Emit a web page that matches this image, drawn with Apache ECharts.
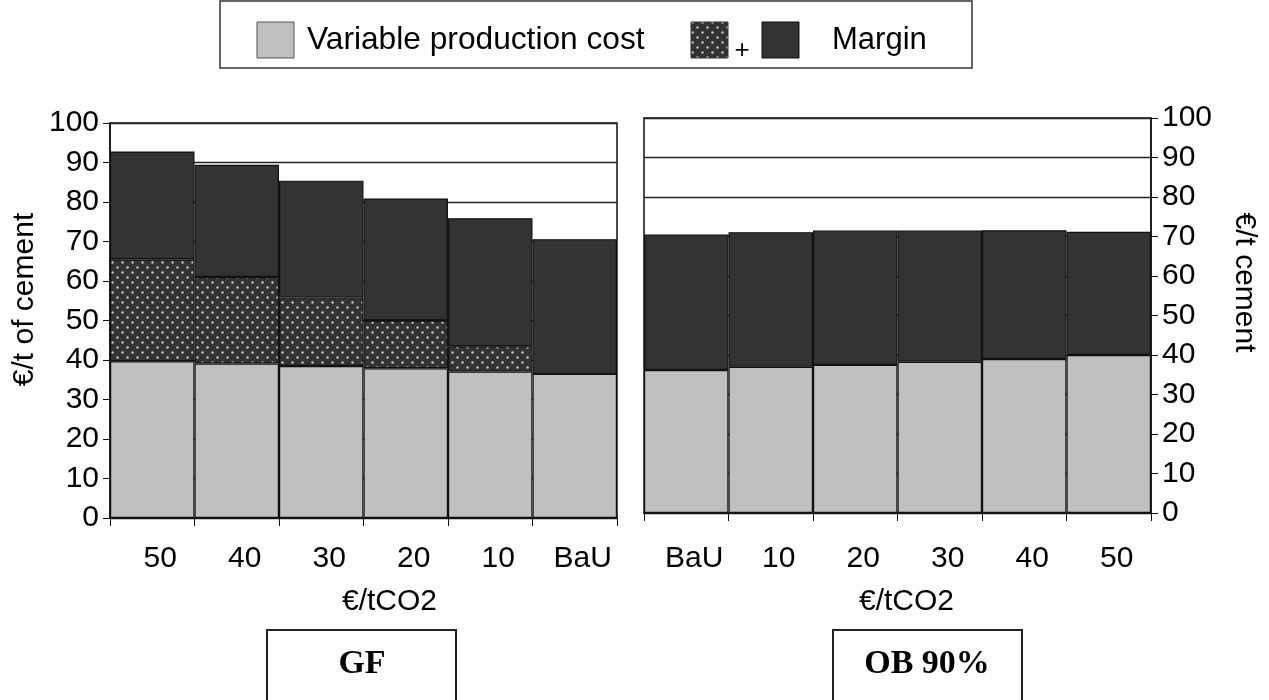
<!DOCTYPE html>
<html>
<head>
<meta charset="utf-8">
<script src="https://cdn.jsdelivr.net/npm/echarts@6/dist/echarts.min.js"></script>
<style>
html,body{margin:0;padding:0;background:#fff;}
#c{width:1269px;height:700px;}
</style>
</head>
<body>
<div id="c"></div>
<script>
// ---- data ----
var gfCategories = ['50', '40', '30', '20', '10', 'BaU'];
var gfVariable = [39.7, 39.1, 38.5, 37.9, 37.1, 36.5];
var gfCO2 = [25.8, 21.9, 17.3, 12.1, 6.4, 0];
var gfMargin = [27.3, 28.4, 29.6, 30.9, 32.4, 34.1];

var obCategories = ['BaU', '10', '20', '30', '40', '50'];
var obVariable = [36.2, 37.0, 37.5, 38.3, 39.0, 40.0];
var obMargin = [34.3, 34.1, 34.0, 33.2, 32.6, 31.2];

var yTicks = [0, 10, 20, 30, 40, 50, 60, 70, 80, 90, 100];

// ---- style ----
var SANS = "'Liberation Sans', Arial, sans-serif";
var SERIF = "'Liberation Serif', 'Times New Roman', serif";
var GREY = '#c0c0c0';
var DARK = '#333333';

function makeDots() {
  var cv = document.createElement('canvas');
  cv.width = 10; cv.height = 10;
  var ctx = cv.getContext('2d');
  ctx.fillStyle = DARK;
  ctx.fillRect(0, 0, 10, 10);
  ctx.fillStyle = '#c4c4c4';
  [[2.5, 2.5], [7.5, 7.5]].forEach(function (p) {
    ctx.beginPath();
    ctx.arc(p[0], p[1], 1.25, 0, Math.PI * 2);
    ctx.fill();
  });
  return cv;
}
var dotPattern = { image: makeDots(), repeat: 'repeat' };

var chart = echarts.init(document.getElementById('c'), null, { renderer: 'canvas' });

function xAxisCfg(idx, cats, labelMargin, nameGap, namePad) {
  return {
    type: 'category', gridIndex: idx, data: cats,
    axisLine: { show: true, lineStyle: { color: '#111', width: 1.5 } },
    axisTick: { show: true, alignWithLabel: false, length: 8, lineStyle: { color: '#111', width: 1 } },
    axisLabel: { color: '#000', fontSize: 30, fontFamily: SANS, margin: labelMargin, padding: [0, 0, 0, 16] },
    name: '€/tCO2', nameLocation: 'middle', nameGap: nameGap,
    nameTextStyle: { color: '#000', fontSize: 30, fontFamily: SANS, padding: namePad }
  };
}

function yAxisCfg(idx, pos, name, rot, gap, namePad) {
  return {
    type: 'value', gridIndex: idx, position: pos, min: 0, max: 100, interval: 10,
    axisLine: { show: true, lineStyle: { color: '#111', width: 1.5 } },
    axisTick: { show: true, length: 7, lineStyle: { color: '#111', width: 1 } },
    axisLabel: { color: '#000', fontSize: 30, fontFamily: SANS, margin: 11 },
    splitLine: { show: true, lineStyle: { color: '#222', width: 1.3 } },
    name: name, nameLocation: 'middle', nameRotate: rot, nameGap: gap,
    nameTextStyle: { color: '#000', fontSize: 30, fontFamily: SANS, padding: namePad }
  };
}

var barBorder = { borderColor: '#111', borderWidth: 1.2 };

function bar(name, xi, data, color) {
  return {
    name: name, type: 'bar', stack: 's' + xi, xAxisIndex: xi, yAxisIndex: xi,
    data: data, barCategoryGap: '0%', barGap: '0%',
    itemStyle: Object.assign({ color: color }, barBorder),
    emphasis: { disabled: true }, silent: true
  };
}

var option = {
  backgroundColor: '#fff',
  animation: false,
  grid: [
    { left: 110, top: 123, width: 507, height: 395, show: true, borderColor: '#111', borderWidth: 1.5, backgroundColor: 'transparent' },
    { left: 644, top: 118, width: 507, height: 395, show: true, borderColor: '#111', borderWidth: 1.5, backgroundColor: 'transparent' }
  ],
  xAxis: [
    xAxisCfg(0, gfCategories, 26, 69, [0, 0, 0, 52]),
    xAxisCfg(1, obCategories, 31, 74, [0, 0, 0, 18])
  ],
  yAxis: [
    yAxisCfg(0, 'left', '€/t of cement', 90, 70, [0, 0, 0, 42]),
    yAxisCfg(1, 'right', '€/t cement', -90, 78, [0, 66, 0, 0])
  ],
  series: [
    bar('Variable production cost', 0, gfVariable, GREY),
    bar('CO2 cost', 0, gfCO2, dotPattern),
    bar('Margin', 0, gfMargin, DARK),
    bar('Variable production cost', 1, obVariable, GREY),
    bar('Margin', 1, obMargin, DARK)
  ],
  graphic: [
    { type: 'rect', shape: { x: 220, y: 1, width: 752, height: 67 }, style: { fill: '#fff', stroke: '#333', lineWidth: 1.5 }, z: 10 },
    { type: 'rect', shape: { x: 257, y: 22, width: 37, height: 36 }, style: { fill: GREY, stroke: '#555', lineWidth: 1 }, z: 11 },
    { type: 'text', x: 307, y: 40, style: { text: 'Variable production cost', fill: '#000', font: '31.7px ' + SANS, verticalAlign: 'middle' }, z: 11 },
    { type: 'rect', shape: { x: 691, y: 22, width: 37, height: 36 }, style: { fill: dotPattern, stroke: '#333', lineWidth: 1 }, z: 11 },
    { type: 'text', x: 742, y: 51, style: { text: '+', fill: '#000', font: '26px ' + SANS, align: 'center', verticalAlign: 'middle' }, z: 11 },
    { type: 'rect', shape: { x: 762, y: 22, width: 37, height: 36 }, style: { fill: DARK, stroke: '#111', lineWidth: 1 }, z: 11 },
    { type: 'text', x: 832, y: 40, style: { text: 'Margin', fill: '#000', font: '31px ' + SANS, verticalAlign: 'middle' }, z: 11 },
    { type: 'rect', shape: { x: 267, y: 630, width: 189, height: 90 }, style: { fill: '#fff', stroke: '#222', lineWidth: 2 }, z: 10 },
    { type: 'text', x: 362, y: 664, style: { text: 'GF', fill: '#000', font: 'bold 34px ' + SERIF, align: 'center', verticalAlign: 'middle' }, z: 11 },
    { type: 'rect', shape: { x: 833, y: 630, width: 189, height: 90 }, style: { fill: '#fff', stroke: '#222', lineWidth: 2 }, z: 10 },
    { type: 'text', x: 927, y: 664, style: { text: 'OB 90%', fill: '#000', font: 'bold 34px ' + SERIF, align: 'center', verticalAlign: 'middle' }, z: 11 }
  ]
};
chart.setOption(option);
</script>
</body>
</html>
